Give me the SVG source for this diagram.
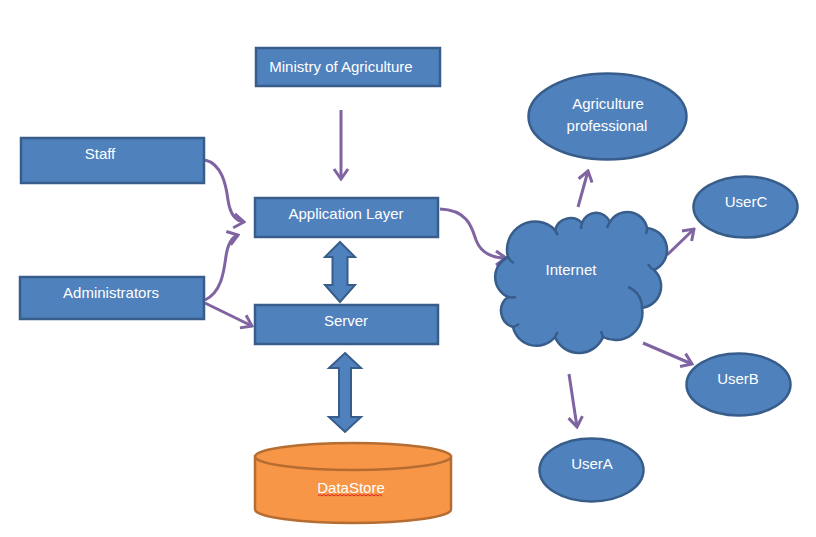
<svg xmlns="http://www.w3.org/2000/svg" width="816" height="537" viewBox="0 0 816 537">
<defs>
<style>
.box{fill:#4F81BD;stroke:#385D8A;stroke-width:2.5}
.t{font-family:"Liberation Sans",Arial,sans-serif;font-size:15px;fill:#FFFFFF;text-anchor:middle}
.conn{fill:none;stroke:#8064A2;stroke-width:3;marker-end:url(#chev)}
.dbl{fill:#4F81BD;stroke:#385D8A;stroke-width:2;stroke-linejoin:miter}
.inner{fill:none;stroke:#385D8A;stroke-width:2.5}
</style>
<marker id="chev" markerUnits="userSpaceOnUse" viewBox="-14 -10 16 20" markerWidth="16" markerHeight="20" refX="0" refY="0" orient="auto">
<path d="M-10,-7 L0,0 L-10,7" fill="none" stroke="#8064A2" stroke-width="3" stroke-linejoin="miter"/>
</marker>
</defs>
<rect width="816" height="537" fill="#FFFFFF"/>

<g id="connectors">
<path class="conn" d="M341,110 L341,179"/>
<path class="conn" d="M205,160 C222,164 226,185 228,200 C230,214 236,221 244,222"/>
<path class="conn" d="M205,300 C222,292 224,270 226,256 C228,243 232,237 238,235"/>
<path class="conn" d="M205,303 L252,326"/>
<path class="conn" d="M440,209 C468,210 472,228 476,240 C481,253 493,258 506,258"/>
<path class="conn" d="M578,207 L588,171"/>
<path class="conn" d="M667,255 L694,229"/>
<path class="conn" d="M643,343 L692,364"/>
<path class="conn" d="M569,374 L577,427"/>
<polygon id="dbl1" class="dbl" points="340,242 355,257 347.5,257 347.5,285 355,285 340,302 325,285 332.5,285 332.5,257 325,257"/>
<polygon id="dbl2" class="dbl" points="345,353 361,368 351,368 351,417 361,417 345,432 329,417 339,417 339,368 329,368"/>
</g>

<g id="ministry">
<rect class="box" x="256" y="48" width="184" height="38"/>
<text class="t" x="341" y="72">Ministry of Agriculture</text>
</g>
<g id="staff">
<rect class="box" x="21" y="138" width="183" height="45"/>
<text class="t" x="100" y="159">Staff</text>
</g>
<g id="administrators">
<rect class="box" x="20" y="277" width="184" height="42"/>
<text class="t" x="111" y="298">Administrators</text>
</g>
<g id="application">
<rect class="box" x="255" y="198" width="183" height="39"/>
<text class="t" x="346" y="219">Application Layer</text>
</g>
<g id="server">
<rect class="box" x="255" y="305" width="183" height="39"/>
<text class="t" x="346" y="326">Server</text>
</g>
<g id="datastore">
<path d="M255,456.5 V509.5 A98,13.5 0 0 0 451,509.5 V456.5 Z" fill="#F79646" stroke="#B66D31" stroke-width="2.5"/>
<ellipse cx="353" cy="456.5" rx="98" ry="13.5" fill="#F79646" stroke="#B66D31" stroke-width="2.5"/>
<text class="t" x="351" y="493">DataStore</text>
<path d="M318,496 l2,-1.5 l2,1.5 l2,-1.5 l2,1.5 l2,-1.5 l2,1.5 l2,-1.5 l2,1.5 l2,-1.5 l2,1.5 l2,-1.5 l2,1.5 l2,-1.5 l2,1.5 l2,-1.5 l2,1.5 l2,-1.5 l2,1.5 l2,-1.5 l2,1.5 l2,-1.5 l2,1.5 l2,-1.5 l2,1.5 l2,-1.5 l2,1.5 l2,-1.5 l2,1.5 l2,-1.5 l2,1.5 l2,-1.5 l2,1.5" fill="none" stroke="#E02020" stroke-width="1"/>
</g>
<g id="internet">
<path d="M508,257 A28,28 0 0 1 555,230 A16,16 0 0 1 582,223 A15,15 0 0 1 610,222 A20,20 0 0 1 647,228 A22,22 0 0 1 654,270 A22,22 0 0 1 642,308 A27,27 0 0 1 603,337 A26,26 0 0 1 555,337 A24,24 0 0 1 513,327 A17,17 0 0 1 508,297 A22,22 0 0 1 508,257 Z" fill="#4F81BD" stroke="#385D8A" stroke-width="2.5" stroke-linejoin="round"/>
<path class="inner" d="M508,257 q2,4 6,6"/>
<path class="inner" d="M508,297 q4,1 8,0"/>
<path class="inner" d="M555,230 q1,3 3,5"/>
<path class="inner" d="M582,223 q-1,3 -1,6"/>
<path class="inner" d="M610,222 q-2,3 -3,6"/>
<path class="inner" d="M647,228 q0,3 -1,6"/>
<path class="inner" d="M654,270 q-4,-2 -6,-6"/>
<path class="inner" d="M628,287 A22,22 0 0 1 642,308"/>
<path class="inner" d="M603,337 q-1,-3 -2,-6"/>
<path class="inner" d="M555,337 q1,-3 3,-5"/>
<path class="inner" d="M513,327 q3,-1 6,-3"/>
<text class="t" x="571" y="275">Internet</text>
</g>
<g id="agri">
<ellipse class="box" cx="607.5" cy="116.5" rx="79" ry="43"/>
<text class="t" x="608" y="109">Agriculture</text>
<text class="t" x="607" y="131">professional</text>
</g>
<g id="userc">
<ellipse class="box" cx="745.5" cy="207" rx="52" ry="30.5"/>
<text class="t" x="746" y="207">UserC</text>
</g>
<g id="userb">
<ellipse class="box" cx="738.5" cy="384.5" rx="52" ry="31"/>
<text class="t" x="738" y="384">UserB</text>
</g>
<g id="usera">
<ellipse class="box" cx="591.5" cy="470" rx="52" ry="31.5"/>
<text class="t" x="592" y="469">UserA</text>
</g>
</svg>
